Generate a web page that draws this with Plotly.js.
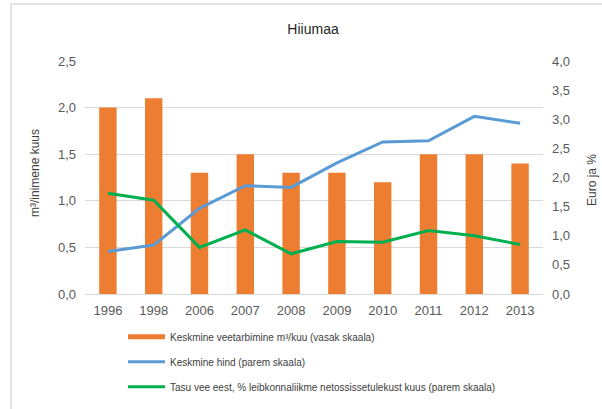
<!DOCTYPE html>
<html>
<head>
<meta charset="utf-8">
<script src="https://cdn.plot.ly/plotly-3.0.1.min.js"></script>
<style>html,body{margin:0;padding:0;background:#fff;}#chart{width:602px;height:409px;}</style>
</head>
<body>
<div id="chart"></div>
<script>
const years = ['1996','1998','2006','2007','2008','2009','2010','2011','2012','2013'];
const consumption = [2.0, 2.1, 1.3, 1.5, 1.3, 1.3, 1.2, 1.5, 1.5, 1.4];
const avgPrice = [0.73, 0.84, 1.47, 1.86, 1.83, 2.25, 2.61, 2.63, 3.05, 2.93];
const sharePct = [1.73, 1.61, 0.80, 1.10, 0.69, 0.90, 0.89, 1.09, 1.00, 0.85];
const names = [
  'Keskmine veetarbimine m³/kuu (vasak skaala)',
  'Keskmine hind (parem skaala)',
  'Tasu vee eest, % leibkonnaliikme netossissetulekust kuus (parem skaala)'
];
const leftTitle = 'm³/inimene kuus';
const rightTitle = 'Euro ja %';
const cOrange = '#ED7D31', cBlue = '#5B9BD5', cGreen = '#00B050';

const traces = [
  {type:'bar', x:years, y:consumption, name:names[0], marker:{color:cOrange}, width:0.38, showlegend:false, yaxis:'y'},
  {type:'scatter', mode:'lines', x:[null], y:[null], name:names[0], line:{color:cOrange, width:5}, legendgroup:'a', showlegend:true, yaxis:'y'},
  {type:'scatter', mode:'lines', x:years, y:avgPrice, name:names[1], line:{color:cBlue, width:3}, legendgroup:'b', yaxis:'y2'},
  {type:'scatter', mode:'lines', x:years, y:sharePct, name:names[2], line:{color:cGreen, width:3}, legendgroup:'c', yaxis:'y2'}
];

const tickFont = {family:'Liberation Sans, Arial, sans-serif', size:13, color:'#595959'};
const titleFont = {family:'Liberation Sans, Arial, sans-serif', size:12, color:'#404040'};
const layout = {
  width:602, height:409,
  margin:{l:85, r:59, t:61, b:115, autoexpand:false},
  paper_bgcolor:'#fff', plot_bgcolor:'#fff',
  separators:', ',
  font:{family:'Liberation Sans, Arial, sans-serif', color:'#595959'},
  title:{text:'Hiiumaa', font:{family:'Liberation Sans, Arial, sans-serif', size:14, color:'#262626'}, x:0.52, xanchor:'center', y:0.93, yanchor:'middle'},
  xaxis:{type:'category', tickfont:tickFont, tickangle:0, ticklabelstandoff:4, automargin:false, showgrid:false, showline:true, linecolor:'#d9d9d9', linewidth:1, ticks:'', fixedrange:true},
  yaxis:{range:[0,2.5], dtick:0.5, tickformat:'.1f', tickfont:tickFont, ticklabelstandoff:8, automargin:false, showgrid:true, gridcolor:'#d9d9d9', gridwidth:1, zeroline:false, ticks:''},
  yaxis2:{range:[0,4], dtick:0.5, tickformat:'.1f', tickfont:tickFont, ticklabelstandoff:8, automargin:false, overlaying:'y', side:'right', showgrid:false, zeroline:false, ticks:''},
  annotations:[
    {text:leftTitle, xref:'paper', yref:'paper', x:(35-85)/458, y:(294-173)/233, xanchor:'center', yanchor:'middle', textangle:-90, showarrow:false, font:titleFont},
    {text:rightTitle, xref:'paper', yref:'paper', x:(592-85)/458, y:(294-180)/233, xanchor:'center', yanchor:'middle', textangle:-90, showarrow:false, font:titleFont}
  ],
  legend:{xref:'container', yref:'container', x:0.2043, y:0.212, xanchor:'left', yanchor:'top', orientation:'v',
          font:{size:10, color:'#404040'}, itemwidth:37, tracegroupgap:6, bgcolor:'rgba(0,0,0,0)'},
  bargap:0.6,
  shapes:[{type:'rect', xref:'paper', yref:'paper', x0:-0.1616, x1:2, y0:-1, y1:1.2446, line:{color:'#d9d9d9', width:1.5}, fillcolor:'rgba(0,0,0,0)', layer:'below'}]
};
Plotly.newPlot('chart', traces, layout, {staticPlot:true});
</script>
</body>
</html>
